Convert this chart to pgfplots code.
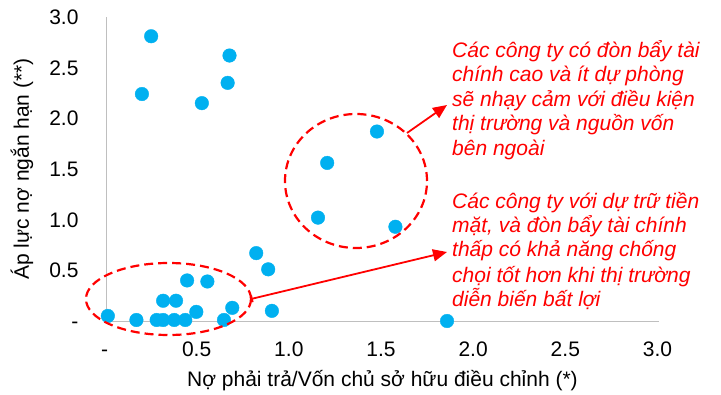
\documentclass[border=0pt]{standalone}
\usepackage{fontspec}
\setmainfont{Liberation Sans}
\usepackage{pgfplots}
\pgfplotsset{compat=1.18}
\usetikzlibrary{arrows.meta}
\definecolor{dotblue}{HTML}{00B0F0}
\definecolor{annred}{HTML}{FF0000}
\definecolor{axgray}{HTML}{BFBFBF}
\newcommand{\fs}{\fontsize{21bp}{24bp}\selectfont}
\begin{document}
\begin{tikzpicture}
\useasboundingbox (-106bp,-74bp) rectangle (615bp,321bp);
\begin{axis}[
  at={(0,0)}, anchor=south west,
  scale only axis, width=553bp, height=304bp,
  xmin=0, xmax=3, ymin=0, ymax=3,
  clip=false,
  axis x line*=bottom, axis y line*=left,
  axis line style={draw=axgray, line width=0.9bp, -},
  tick style={draw=none},
  xtick={0,0.5,1,1.5,2,2.5,3},
  xticklabels={-,0.5,1.0,1.5,2.0,2.5,3.0},
  ytick={0,0.5,1,1.5,2,2.5,3},
  yticklabels={-\hspace{10bp},0.5,1.0,1.5,2.0,2.5,3.0},
  xticklabel style={font=\fs, anchor=base, yshift=-35bp, xshift=-1.5bp},
  yticklabel style={font=\fs, anchor=base east, xshift=-24bp, yshift=-7.5bp},
  xlabel={Nợ phải trả/Vốn chủ sở hữu điều chỉnh (*)},
  ylabel={Áp lực nợ ngắn hạn (**)},
  xlabel style={font=\fs, at={(axis description cs:0.5,-0.197)}, anchor=center},
  ylabel style={font=\fs, at={(axis description cs:-0.152,0.5)}, anchor=center},
]
\addplot[only marks, mark=*, mark size=6.8bp, color=dotblue, draw=none, mark options={fill=dotblue, draw=dotblue}] coordinates {
(0.245,2.81) (0.195,2.24) (0.52,2.15) (0.67,2.62) (0.66,2.35)
(1.47,1.87) (1.20,1.56) (1.15,1.02) (1.57,0.93)
(0.815,0.67) (0.88,0.51) (0.90,0.10) (0.685,0.13) (0.64,0.01) (0.49,0.09)
(0.55,0.39) (0.44,0.40) (0.38,0.20) (0.31,0.20)
(0.01,0.05) (0.165,0.01) (0.275,0.01) (0.31,0.01) (0.37,0.01) (0.43,0.01) (1.85,0.0)
};
\end{axis}
\begin{scope}[annred, line width=2.2bp, dash pattern=on 9bp off 5bp]
\draw (250bp,140bp) ellipse [x radius=71bp, y radius=67bp];
\draw (62.5bp,22bp) ellipse [x radius=82.5bp, y radius=36bp];
\end{scope}
\draw[annred, line width=1.8bp, -{Triangle[length=14bp,width=12bp]}] (301bp,188bp) -- (341bp,216bp);
\draw[annred, line width=1.8bp, {Bar[width=7bp]}-{Triangle[length=14bp,width=12bp]}] (145bp,22bp) -- (341bp,69bp);
\begin{scope}[every node/.style={annred, font=\fs\itshape, anchor=base west, inner sep=0pt}]
\node at (346bp,263bp) {Các công ty có đòn bẩy tài};
\node at (346bp,239bp) {chính cao và ít dự phòng};
\node at (346bp,214bp) {sẽ nhạy cảm với điều kiện};
\node at (346bp,190bp) {thị trường và nguồn vốn};
\node at (346bp,165bp) {bên ngoài};
\node at (346bp,112bp) {Các công ty với dự trữ tiền};
\node at (346bp,88bp) {mặt, và đòn bẩy tài chính};
\node at (346bp,64bp) {thấp có khả năng chống};
\node at (346bp,39bp) {chọi tốt hơn khi thị trường};
\node at (346bp,15bp) {diễn biến bất lợi};
\end{scope}
\end{tikzpicture}
\end{document}
